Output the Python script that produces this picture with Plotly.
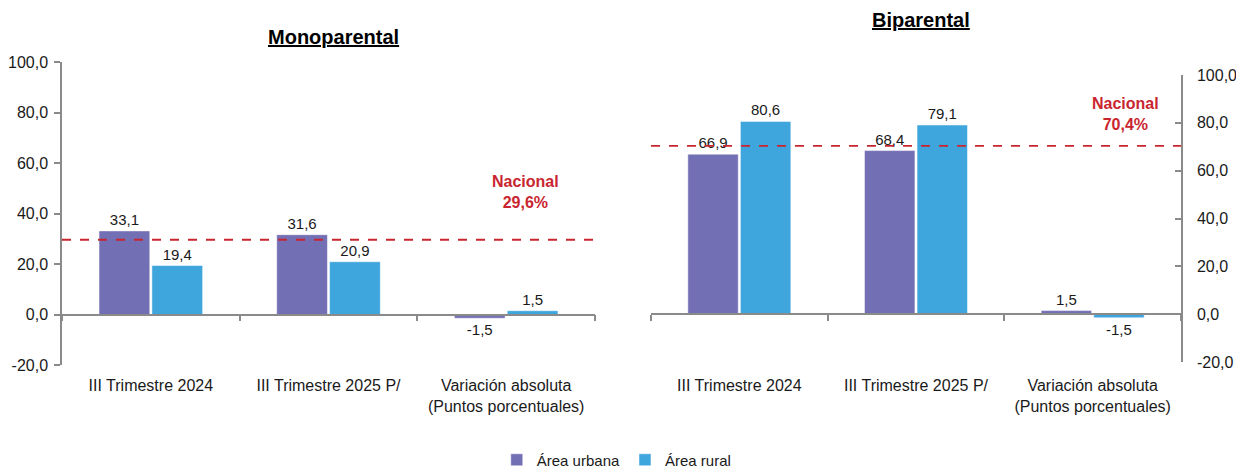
import plotly.graph_objects as go

categories = ["III Trimestre 2024", "III Trimestre 2025 P/", "Variación absoluta<br>(Puntos porcentuales)"]
mono_urbana = [33.1, 31.6, -1.5]
mono_rural = [19.4, 20.9, 1.5]
bi_urbana = [66.9, 68.4, 1.5]
bi_rural = [80.6, 79.1, -1.5]
nacional_mono = 29.6
nacional_bi = 70.4
series_names = ["Área urbana", "Área rural"]
panel_titles = ["Monoparental", "Biparental"]
y_ticks = [-20, 0, 20, 40, 60, 80, 100]

C_URB = "#736fb4"
C_RUR = "#3fa5dd"
C_RED = "#c9252f"
C_AX = "#8a8a8a"
FONT = "Arial, Liberation Sans, sans-serif"
W, H = 1236, 470

# domains (paper fractions)
xd1 = [62 / W, 595 / W]
xd2 = [651 / W, 1181 / W]
yd1 = [1 - 365 / H, 1 - 62 / H]
yd2 = [1 - 362 / H, 1 - 75 / H]
YR = [-20, 100]


def fmt(v):
    return f"{v:.1f}".replace(".", ",")


def zero_pos(yd):
    return yd[0] + (0 - YR[0]) / (YR[1] - YR[0]) * (yd[1] - yd[0])


fig = go.Figure()


def add_bars(vals, name, color, xa, ya, show):
    fig.add_trace(go.Bar(
        x=categories, y=vals, name=name, marker=dict(color=color, line=dict(color="white", width=0.5)),
        xaxis=xa, yaxis=ya, showlegend=show, legendgroup=name,
        text=[fmt(v) for v in vals], texttemplate="%{text}", textposition="outside", cliponaxis=False,
        textfont=dict(size=15, color="#1a1a1a", family=FONT), hoverinfo="skip",
    ))


add_bars(mono_urbana, series_names[0], C_URB, "x", "y", True)
add_bars(mono_rural, series_names[1], C_RUR, "x", "y", True)
add_bars(bi_urbana, series_names[0], C_URB, "x2", "y2", False)
add_bars(bi_rural, series_names[1], C_RUR, "x2", "y2", False)

xcommon = dict(
    type="category", showgrid=False, showline=True, linecolor=C_AX, linewidth=1.5,
    ticks="outside", tickson="boundaries", ticklen=6, tickcolor=C_AX, tickwidth=1.5,
    tickfont=dict(size=16, color="#1a1a1a", family=FONT), ticklabelstandoff=57,
    anchor="free", zeroline=False, automargin=False,
)
ycommon = dict(
    range=YR, tickvals=y_ticks, ticktext=[fmt(v) for v in y_ticks], showgrid=False, zeroline=False,
    showline=True, linecolor=C_AX, linewidth=1.5, ticklen=6, tickcolor=C_AX, tickwidth=1.5,
    tickfont=dict(size=16, color="#1a1a1a", family=FONT), automargin=False,
)

fig.update_layout(
    width=W, height=H, margin=dict(l=0, r=0, t=0, b=0, autoexpand=False),
    paper_bgcolor="white", plot_bgcolor="white",
    separators=",.",
    barmode="group", bargap=0.405, bargroupgap=0.04,
    font=dict(family=FONT, size=14, color="#1a1a1a"),
    xaxis=dict(domain=xd1, position=zero_pos(yd1), **xcommon),
    xaxis2=dict(domain=xd2, position=zero_pos(yd2), **xcommon),
    yaxis=dict(domain=yd1, anchor="x", side="left", ticks="outside", ticklabelstandoff=3, **ycommon),
    yaxis2=dict(domain=yd2, anchor="x2", side="right", ticks="inside", ticklabelstandoff=11, **ycommon),
    legend=dict(orientation="h", x=0.499, xanchor="center", y=1 - 460 / H, yanchor="middle",
                font=dict(size=15, family=FONT, color="#1a1a1a"), traceorder="normal"),
)

# national reference lines
fig.add_shape(type="line", xref="x domain", yref="y", x0=0, x1=1, y0=nacional_mono, y1=nacional_mono,
              line=dict(color=C_RED, width=1.8, dash="dash"))
fig.add_shape(type="line", xref="x2 domain", yref="y2", x0=0, x1=1, y0=nacional_bi, y1=nacional_bi,
              line=dict(color=C_RED, width=1.8, dash="dash"))

fig.add_annotation(xref="x domain", yref="y", x=0.87, y=48.5, showarrow=False,
                   xanchor="center", yanchor="middle",
                   text=f"<b>Nacional<br>{fmt(nacional_mono)}%</b>",
                   font=dict(size=16, color=C_RED, family=FONT))
fig.add_annotation(xref="x2 domain", yref="y2", x=0.895, y=83.5, showarrow=False,
                   xanchor="center", yanchor="middle",
                   text=f"<b>Nacional<br>{fmt(nacional_bi)}%</b>",
                   font=dict(size=16, color=C_RED, family=FONT))

# titles
fig.add_annotation(xref="x domain", yref="paper", x=0.51, y=1 - 37 / H, showarrow=False,
                   xanchor="center", yanchor="middle",
                   text=f"<b><u>{panel_titles[0]}</u></b>", font=dict(size=20, color="#000", family=FONT))
fig.add_annotation(xref="x2 domain", yref="paper", x=0.51, y=1 - 20 / H, showarrow=False,
                   xanchor="center", yanchor="middle",
                   text=f"<b><u>{panel_titles[1]}</u></b>", font=dict(size=20, color="#000", family=FONT))

fig.write_html("out.html", config={"displayModeBar": False},
               post_script="document.body.style.margin='0';document.body.style.overflow='hidden';")
